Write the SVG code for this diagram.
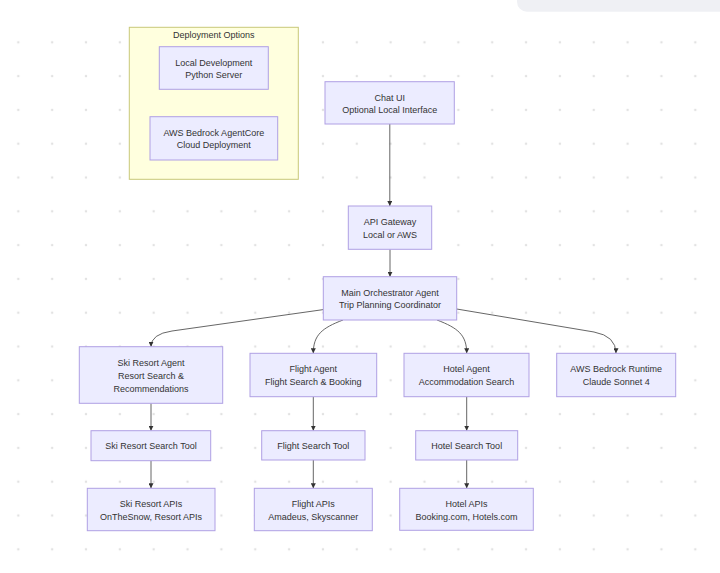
<svg xmlns="http://www.w3.org/2000/svg" width="720" height="573" viewBox="0 0 720 573">
<style>
.bg{fill:#ffffff}
.dots{fill:url(#dotgrid)}
.node rect{fill:#ececff;stroke:#b0a0e4;stroke-width:1}
.cluster rect{fill:#ffffde;stroke:#c8c878;stroke-width:1}
text{font-family:"Liberation Sans",Arial,sans-serif;font-size:9px;fill:#333333;text-anchor:middle;dominant-baseline:central}
.edge{fill:none;stroke:#555555;stroke-width:0.9;marker-end:url(#arrow)}
</style>
<defs>
<pattern id="dotgrid" patternUnits="userSpaceOnUse" x="1.4" y="25.4" width="33.85" height="33.8">
<circle cx="16.9" cy="16.9" r="1.3" fill="#e2e2e2"/>
</pattern>
<marker id="arrow" viewBox="0 0 10 10" refX="10" refY="5" markerUnits="userSpaceOnUse" markerWidth="5" markerHeight="5" orient="auto">
<path d="M0,0 L10,5 L0,10 z" fill="#333333"/>
</marker>
</defs>
<rect class="bg" x="0" y="0" width="720" height="573"/>
<rect class="dots" x="0" y="25" width="720" height="548"/>
<rect x="517" y="-20" width="220" height="31.7" rx="10" fill="#eff0f4"/>

<g id="cluster-deployment" class="cluster">
<rect x="129.3" y="27.3" width="169" height="152"/>
<text x="213.8" y="35">Deployment Options</text>
</g>

<g id="edges">
<path class="edge" d="M389.8,124 L389.8,206"/>
<path class="edge" d="M390,249.3 L390,276.7"/>
<path class="edge" d="M323.3,309.6 L172,331 Q151,334 151,346.7"/>
<path class="edge" d="M343,320 C322,328 313.3,335 313.3,353.3"/>
<path class="edge" d="M437,320 C458,328 466.7,335 466.7,353.3"/>
<path class="edge" d="M456.7,309 L594,332 Q616,336 616,353.3"/>
<path class="edge" d="M151,403.3 L151,430.7"/>
<path class="edge" d="M151,460.7 L151,488.3"/>
<path class="edge" d="M313.3,396.7 L313.3,430.7"/>
<path class="edge" d="M313.3,460 L313.3,488.3"/>
<path class="edge" d="M466.7,396.7 L466.7,430.7"/>
<path class="edge" d="M466.7,460 L466.7,488.3"/>
</g>

<g id="local-dev" class="node">
<rect x="159.3" y="46.7" width="109" height="42.6"/>
<text x="213.8" y="62.5">Local Development</text>
<text x="213.8" y="74.5">Python Server</text>
</g>
<g id="agentcore" class="node">
<rect x="150" y="116.7" width="127.7" height="43.3"/>
<text x="213.8" y="132.8">AWS Bedrock AgentCore</text>
<text x="213.8" y="144.8">Cloud Deployment</text>
</g>
<g id="chat-ui" class="node">
<rect x="325" y="81.7" width="129.3" height="42.3"/>
<text x="389.7" y="97.5">Chat UI</text>
<text x="389.7" y="109.5">Optional Local Interface</text>
</g>
<g id="api-gateway" class="node">
<rect x="348.3" y="206" width="83.4" height="43.3"/>
<text x="390" y="222">API Gateway</text>
<text x="390" y="234.5">Local or AWS</text>
</g>
<g id="orchestrator" class="node">
<rect x="323.3" y="276.7" width="133.4" height="43.3"/>
<text x="390" y="292.5">Main Orchestrator Agent</text>
<text x="390" y="304.8">Trip Planning Coordinator</text>
</g>
<g id="ski-agent" class="node">
<rect x="79.3" y="346.7" width="143.4" height="56.6"/>
<text x="151" y="363">Ski Resort Agent</text>
<text x="151" y="375.7">Resort Search &amp;</text>
<text x="151" y="388.7">Recommendations</text>
</g>
<g id="flight-agent" class="node">
<rect x="250" y="353.3" width="126.7" height="43.4"/>
<text x="313.3" y="369">Flight Agent</text>
<text x="313.3" y="381.5">Flight Search &amp; Booking</text>
</g>
<g id="hotel-agent" class="node">
<rect x="404" y="353.3" width="125" height="43.4"/>
<text x="466.5" y="369">Hotel Agent</text>
<text x="466.5" y="381.5">Accommodation Search</text>
</g>
<g id="bedrock-runtime" class="node">
<rect x="556.7" y="353.3" width="119" height="43.4"/>
<text x="616.2" y="369">AWS Bedrock Runtime</text>
<text x="616.2" y="381.5">Claude Sonnet 4</text>
</g>
<g id="ski-tool" class="node">
<rect x="91" y="430.7" width="119.7" height="30"/>
<text x="151" y="445.7">Ski Resort Search Tool</text>
</g>
<g id="flight-tool" class="node">
<rect x="261.7" y="430.7" width="103.3" height="29.3"/>
<text x="313.3" y="445.5">Flight Search Tool</text>
</g>
<g id="hotel-tool" class="node">
<rect x="415.7" y="430.7" width="102" height="29.3"/>
<text x="466.7" y="445.5">Hotel Search Tool</text>
</g>
<g id="ski-apis" class="node">
<rect x="87.3" y="488.3" width="127.7" height="42.4"/>
<text x="151" y="504">Ski Resort APIs</text>
<text x="151" y="516.5">OnTheSnow, Resort APIs</text>
</g>
<g id="flight-apis" class="node">
<rect x="254.3" y="488.3" width="118" height="42.4"/>
<text x="313.3" y="504">Flight APIs</text>
<text x="313.3" y="516.5">Amadeus, Skyscanner</text>
</g>
<g id="hotel-apis" class="node">
<rect x="399.7" y="488.3" width="133.6" height="42"/>
<text x="466.5" y="504">Hotel APIs</text>
<text x="466.5" y="516.5">Booking.com, Hotels.com</text>
</g>
</svg>
